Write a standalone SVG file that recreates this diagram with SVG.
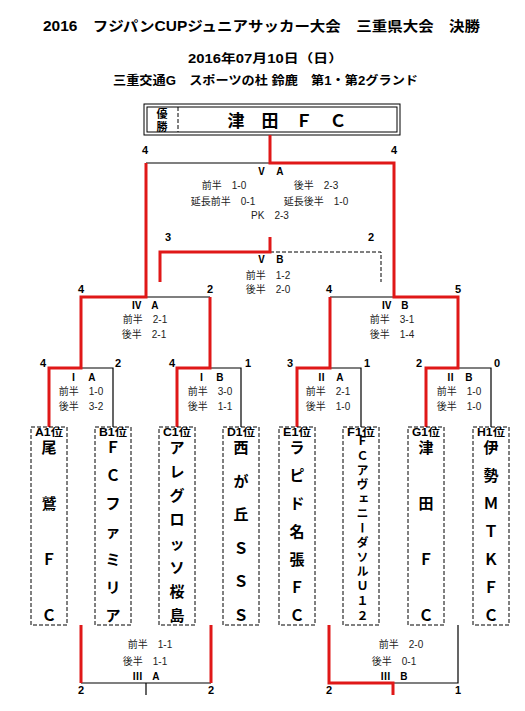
<svg xmlns="http://www.w3.org/2000/svg" width="525" height="711" viewBox="0 0 525 711">
<style>
text{font-family:"Liberation Sans","Noto Sans CJK JP",sans-serif;fill:#000}
.hd{font-weight:bold;dominant-baseline:central}
.sc{font-size:10px;fill:#222;text-anchor:middle;dominant-baseline:central}
.rn{font-size:10px;font-weight:bold;text-anchor:middle;dominant-baseline:central}
.num{font-size:11px;font-weight:bold;text-anchor:middle;dominant-baseline:central}
.nm{font-size:15px;font-weight:bold;text-anchor:middle;dominant-baseline:central}
.lb{font-size:10px;font-weight:bold;text-anchor:middle;dominant-baseline:central}
.red{fill:none;stroke:#e01818;stroke-width:3}
.blk{fill:none;stroke:#000;stroke-width:1.2}
.dsh{fill:none;stroke:#000;stroke-width:1;stroke-dasharray:4 2}
.box{fill:#fff;stroke:#000;stroke-width:1;stroke-dasharray:4 2}
</style>
<rect width="525" height="711" fill="#fff"/>
<g id="header">
<text class="hd" x="43" y="26" font-size="14" textLength="437" lengthAdjust="spacingAndGlyphs">2016　フジパンCUPジュニアサッカー大会　三重県大会　決勝</text>
<text class="hd" x="188" y="59" font-size="12" textLength="155" lengthAdjust="spacingAndGlyphs">2016年07月10日（日）</text>
<text class="hd" x="113" y="81" font-size="12" textLength="305" lengthAdjust="spacingAndGlyphs">三重交通G　スポーツの杜 鈴鹿　第1・第2グランド</text>
</g>
<g id="champion">
<rect x="144" y="104" width="256" height="31" fill="none" stroke="#000" stroke-width="1"/>
<rect x="147" y="107" width="250" height="25" fill="none" stroke="#000" stroke-width="1"/>
<line x1="178" y1="107" x2="178" y2="132" class="dsh"/>
<text class="hd" font-size="11" text-anchor="middle" x="162" y="114">優</text>
<text class="hd" font-size="11" text-anchor="middle" x="162" y="127">勝</text>
<text class="hd" font-size="17" text-anchor="middle" x="287" y="121">津　田　Ｆ　Ｃ</text>
</g>
<g id="connectors">
<path class="blk" d="M146,163H270"/>
<path class="blk" d="M146,297H210"/>
<path class="blk" d="M330,297H394"/>
<path class="blk" d="M81,368H113V427"/>
<path class="blk" d="M210,368H241V427"/>
<path class="blk" d="M330,368H361V427"/>
<path class="blk" d="M458,368H491V427"/>
<path class="blk" d="M81,683H211M146,683V695"/>
<path class="blk" d="M393,683H458V625"/>
<path class="dsh" d="M270,252H381V282"/>
<path class="red" d="M270,135V163H394V297H458V368H426V427"/>
<path class="red" d="M146,163V297H81V368H49V427"/>
<path class="red" d="M210,297V368H177V427"/>
<path class="red" d="M330,297V368H297V427"/>
<path class="red" d="M160,282V252H270V237"/>
<path class="red" d="M81,625V683M211,625V683"/>
<path class="red" d="M329,625V683H393V695"/>
</g>
<g id="match-VA">
<text class="num" x="145" y="150">4</text><text class="num" x="394" y="150">4</text>
<text class="rn" x="270" y="171">Ⅴ　A</text>
<text class="sc" x="224" y="185">前半　1-0</text>
<text class="sc" x="316" y="185">後半　2-3</text>
<text class="sc" x="223" y="201">延長前半　0-1</text>
<text class="sc" x="316" y="201">延長後半　1-0</text>
<text class="sc" x="270" y="215">PK　2-3</text>
</g>
<g id="match-VB">
<text class="num" x="168" y="237">3</text><text class="num" x="371" y="237">2</text>
<text class="rn" x="270" y="259">Ⅴ　B</text>
<text class="sc" x="268" y="275">前半　1-2</text>
<text class="sc" x="268" y="289">後半　2-0</text>
</g>
<g id="match-IVA">
<text class="num" x="81" y="289">4</text><text class="num" x="210" y="289">2</text>
<text class="rn" x="145" y="305">Ⅳ　A</text>
<text class="sc" x="145" y="319">前半　2-1</text>
<text class="sc" x="144" y="334">後半　2-1</text>
</g>
<g id="match-IVB">
<text class="num" x="329" y="289">4</text><text class="num" x="458" y="289">5</text>
<text class="rn" x="395" y="305">Ⅳ　B</text>
<text class="sc" x="392" y="319">前半　3-1</text>
<text class="sc" x="392" y="334">後半　1-4</text>
</g>
<g id="match-IA">
<text class="num" x="43" y="363">4</text><text class="num" x="118" y="363">2</text>
<text class="rn" x="82" y="377">Ⅰ　A</text>
<text class="sc" x="81" y="391">前半　1-0</text>
<text class="sc" x="81" y="406">後半　3-2</text>
</g>
<g id="match-IB">
<text class="num" x="172" y="363">4</text><text class="num" x="248" y="363">1</text>
<text class="rn" x="210" y="377">Ⅰ　B</text>
<text class="sc" x="210" y="391">前半　3-0</text>
<text class="sc" x="210" y="406">後半　1-1</text>
</g>
<g id="match-IIA">
<text class="num" x="290" y="363">3</text><text class="num" x="367" y="363">1</text>
<text class="rn" x="330" y="377">Ⅱ　A</text>
<text class="sc" x="328" y="391">前半　2-1</text>
<text class="sc" x="328" y="406">後半　1-0</text>
</g>
<g id="match-IIB">
<text class="num" x="419" y="363">2</text><text class="num" x="497" y="363">0</text>
<text class="rn" x="459" y="377">Ⅱ　B</text>
<text class="sc" x="459" y="391">前半　1-0</text>
<text class="sc" x="459" y="406">後半　1-0</text>
</g>
<g id="match-IIIA">
<text class="sc" x="150" y="644">前半　1-1</text>
<text class="sc" x="145" y="661">後半　1-1</text>
<text class="rn" x="146" y="676">Ⅲ　A</text>
<text class="num" x="81" y="690">2</text><text class="num" x="211" y="690">2</text>
</g>
<g id="match-IIIB">
<text class="sc" x="401" y="644">前半　2-0</text>
<text class="sc" x="394" y="661">後半　0-1</text>
<text class="rn" x="394" y="676">Ⅲ　B</text>
<text class="num" x="329" y="690">2</text><text class="num" x="458" y="690">1</text>
</g>
<g id="team-A1">
<rect class="box" x="31" y="427" width="36" height="198"/>
<text class="lb" x="49" y="432" textLength="28" lengthAdjust="spacingAndGlyphs">A1位</text>
<text class="nm"><tspan x="49" y="447">尾</tspan><tspan x="49" y="503">鷲</tspan><tspan x="49" y="559">Ｆ</tspan><tspan x="49" y="615">Ｃ</tspan></text>
</g>
<g id="team-B1">
<rect class="box" x="95" y="427" width="36" height="198"/>
<text class="lb" x="113" y="432" textLength="28" lengthAdjust="spacingAndGlyphs">B1位</text>
<text class="nm"><tspan x="113" y="447">Ｆ</tspan><tspan x="113" y="475">Ｃ</tspan><tspan x="113" y="503">フ</tspan><tspan x="113" y="531">ァ</tspan><tspan x="113" y="559">ミ</tspan><tspan x="113" y="587">リ</tspan><tspan x="113" y="615">ア</tspan></text>
</g>
<g id="team-C1">
<rect class="box" x="159" y="427" width="36" height="198"/>
<text class="lb" x="177" y="432" textLength="28" lengthAdjust="spacingAndGlyphs">C1位</text>
<text class="nm"><tspan x="177" y="447">ア</tspan><tspan x="177" y="471">レ</tspan><tspan x="177" y="495">グ</tspan><tspan x="177" y="519">ロ</tspan><tspan x="177" y="543">ッ</tspan><tspan x="177" y="567">ソ</tspan><tspan x="177" y="591">桜</tspan><tspan x="177" y="615">島</tspan></text>
</g>
<g id="team-D1">
<rect class="box" x="223" y="427" width="36" height="198"/>
<text class="lb" x="241" y="432" textLength="28" lengthAdjust="spacingAndGlyphs">D1位</text>
<text class="nm"><tspan x="241" y="447">西</tspan><tspan x="241" y="481">が</tspan><tspan x="241" y="514">丘</tspan><tspan x="241" y="548">Ｓ</tspan><tspan x="241" y="581">Ｓ</tspan><tspan x="241" y="615">Ｓ</tspan></text>
</g>
<g id="team-E1">
<rect class="box" x="279" y="427" width="36" height="198"/>
<text class="lb" x="297" y="432" textLength="28" lengthAdjust="spacingAndGlyphs">E1位</text>
<text class="nm"><tspan x="297" y="447">ラ</tspan><tspan x="297" y="475">ピ</tspan><tspan x="297" y="503">ド</tspan><tspan x="297" y="531">名</tspan><tspan x="297" y="559">張</tspan><tspan x="297" y="587">Ｆ</tspan><tspan x="297" y="615">Ｃ</tspan></text>
</g>
<g id="team-F1">
<rect class="box" x="343" y="427" width="36" height="198"/>
<text class="lb" x="361" y="432" textLength="28" lengthAdjust="spacingAndGlyphs">F1位</text>
<text x="361" y="435" writing-mode="vertical-rl" font-size="12" font-weight="bold" letter-spacing="2.5">ＦＣアヴェニーダソルＵ１２</text>
</g>
<g id="team-G1">
<rect class="box" x="408" y="427" width="36" height="198"/>
<text class="lb" x="426" y="432" textLength="28" lengthAdjust="spacingAndGlyphs">G1位</text>
<text class="nm"><tspan x="426" y="447">津</tspan><tspan x="426" y="503">田</tspan><tspan x="426" y="559">Ｆ</tspan><tspan x="426" y="615">Ｃ</tspan></text>
</g>
<g id="team-H1">
<rect class="box" x="473" y="427" width="36" height="198"/>
<text class="lb" x="491" y="432" textLength="28" lengthAdjust="spacingAndGlyphs">H1位</text>
<text class="nm"><tspan x="491" y="447">伊</tspan><tspan x="491" y="475">勢</tspan><tspan x="491" y="503">Ｍ</tspan><tspan x="491" y="531">Ｔ</tspan><tspan x="491" y="559">Ｋ</tspan><tspan x="491" y="587">Ｆ</tspan><tspan x="491" y="615">Ｃ</tspan></text>
</g>
</svg>
